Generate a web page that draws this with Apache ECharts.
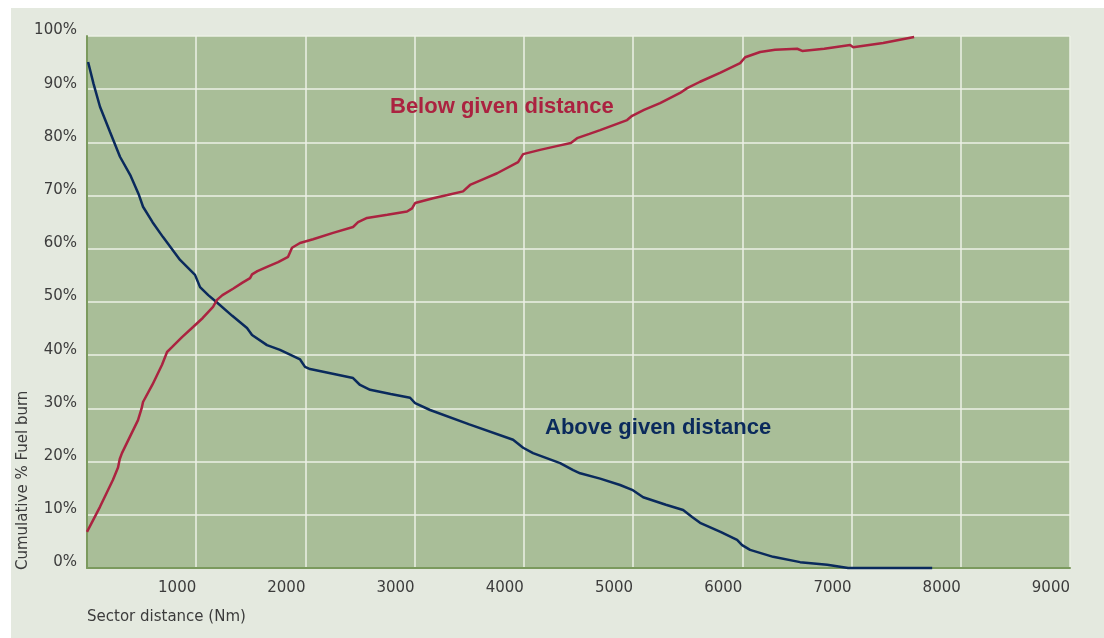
<!DOCTYPE html>
<html>
<head>
<meta charset="utf-8">
<script src="https://cdn.jsdelivr.net/npm/echarts@6/dist/echarts.min.js"></script>
<style>
html,body{margin:0;padding:0;background:#ffffff;}
#chart{width:1104px;height:638px;}
</style>
</head>
<body>
<div id="chart"></div>
<script>
// X axis ticks (Nm) and Y axis ticks (%)
const xTicks = [0, 1000, 2000, 3000, 4000, 5000, 6000, 7000, 8000, 9000];
const yTicks = [0, 10, 20, 30, 40, 50, 60, 70, 80, 90, 100];

// "Below given distance" (cumulative % fuel burn)
const belowX = [0,119,238,284,300,320,467,500,513,600,687,733,778,870,971,1060,1154,1190,1240,1337,1420,1493,1511,1560,1648,1750,1841,1877,1950,2070,2253,2436,2482,2564,2750,2930,2976,3004,3169,3300,3443,3507,3630,3755,3947,3993,4148,4300,4430,4487,4600,4698,4945,4991,5100,5247,5430,5495,5613,5800,5980,6026,6163,6300,6502,6548,6750,6987,7015,7289,7573];
const belowY = [6.8,11.5,16.6,18.9,20.5,21.6,27.8,30.0,31.2,34.5,38.2,40.6,41.5,43.4,45.3,47.0,49.1,50.4,51.3,52.5,53.6,54.5,55.2,55.8,56.6,57.5,58.5,60.2,61.1,61.8,63.0,64.1,65.0,65.8,66.4,67.0,67.6,68.6,69.5,70.1,70.8,72.0,73.1,74.2,76.3,77.8,78.6,79.3,79.9,80.8,81.6,82.3,84.2,85.0,86.1,87.4,89.3,90.2,91.4,93.1,94.9,96.0,97.0,97.4,97.6,97.2,97.6,98.3,97.9,98.7,99.8];

// "Above given distance"
const aboveX = [10,60,119,210,302,400,476,513,600,696,852,989,1035,1110,1190,1330,1465,1511,1648,1767,1951,1996,2042,2250,2436,2500,2592,2780,2958,3004,3141,3500,3901,3993,4084,4332,4451,4515,4698,4881,4991,5092,5300,5458,5540,5613,5800,5952,5998,6071,6282,6529,6777,6969,7738];
const aboveY = [95.1,91.0,86.7,82.0,77.3,73.7,70.1,67.9,65.0,62.2,57.9,55.1,52.8,51.3,49.9,47.4,45.1,43.8,41.9,41.0,39.2,37.8,37.4,36.5,35.7,34.4,33.5,32.7,32.0,31.0,29.7,27.0,24.1,22.6,21.6,19.7,18.4,17.8,16.8,15.6,14.7,13.3,11.9,10.9,9.6,8.5,6.8,5.3,4.3,3.4,2.1,1.1,0.6,0,0];

const labels = {
  below: 'Below given distance',
  above: 'Above given distance',
  xName: 'Sector distance (Nm)',
  yName: 'Cumulative % Fuel burn'
};

const zip = (xs, ys) => xs.map((x, i) => [x, ys[i]]);

const chart = echarts.init(document.getElementById('chart'));
const labelFont = 'DejaVu Sans, sans-serif';
chart.setOption({
  backgroundColor: '#ffffff',
  animation: false,
  grid: {
    left: 87, right: 34, top: 36, bottom: 70,
    show: true, backgroundColor: '#a9be98', borderWidth: 0
  },
  xAxis: {
    type: 'value',
    min: xTicks[0], max: xTicks[xTicks.length - 1], interval: 1000,
    axisLine: { show: true, onZero: false, lineStyle: { color: '#7b9a5e', width: 2 } },
    axisTick: { show: false },
    splitLine: { show: true, lineStyle: { color: '#edf1e6', width: 1.5 } },
    axisLabel: {
      align: 'right', margin: 13, color: '#3c3c3c', fontSize: 15, fontFamily: labelFont,
      formatter: v => (v === 0 ? '' : String(v))
    }
  },
  yAxis: {
    type: 'value',
    min: yTicks[0], max: yTicks[yTicks.length - 1], interval: 10,
    axisLine: { show: true, lineStyle: { color: '#7b9a5e', width: 2 } },
    axisTick: { show: false },
    splitLine: { show: true, lineStyle: { color: '#edf1e6', width: 1.5 } },
    axisLabel: {
      margin: 10, color: '#3c3c3c', fontSize: 15, fontFamily: labelFont,
      verticalAlign: 'bottom', lineHeight: 11,
      formatter: '{value}%'
    }
  },
  graphic: [
    { type: 'rect', z: -100, silent: true,
      shape: { x: 11, y: 8, width: 1093, height: 630 },
      style: { fill: '#e4e9df' } },
    { type: 'text', z: 100, x: 390, y: 107,
      style: { text: labels.below, fill: '#ab2340', font: 'bold 22px "Liberation Sans", Arial, sans-serif',
        textAlign: 'left', textVerticalAlign: 'middle' } },
    { type: 'text', z: 100, x: 545, y: 428,
      style: { text: labels.above, fill: '#0a2a5c', font: 'bold 22px "Liberation Sans", Arial, sans-serif',
        textAlign: 'left', textVerticalAlign: 'middle' } },
    { type: 'text', z: 100, x: 87, y: 617,
      style: { text: labels.xName, fill: '#3c3c3c', font: '15px "DejaVu Sans", sans-serif',
        textAlign: 'left', textVerticalAlign: 'middle' } },
    { type: 'text', z: 100, x: 23, y: 570, rotation: Math.PI / 2,
      style: { text: labels.yName, fill: '#3c3c3c', font: '15px "DejaVu Sans", sans-serif',
        textAlign: 'left', textVerticalAlign: 'middle' } }
  ],
  series: [
    {
      type: 'line', name: labels.above, data: zip(aboveX, aboveY),
      showSymbol: false, smooth: false, clip: false,
      lineStyle: { color: '#0a2a5c', width: 2.5 }
    },
    {
      type: 'line', name: labels.below, data: zip(belowX, belowY),
      showSymbol: false, smooth: false, clip: false,
      lineStyle: { color: '#ab2340', width: 2.5 }
    }
  ]
});
</script>
</body>
</html>
